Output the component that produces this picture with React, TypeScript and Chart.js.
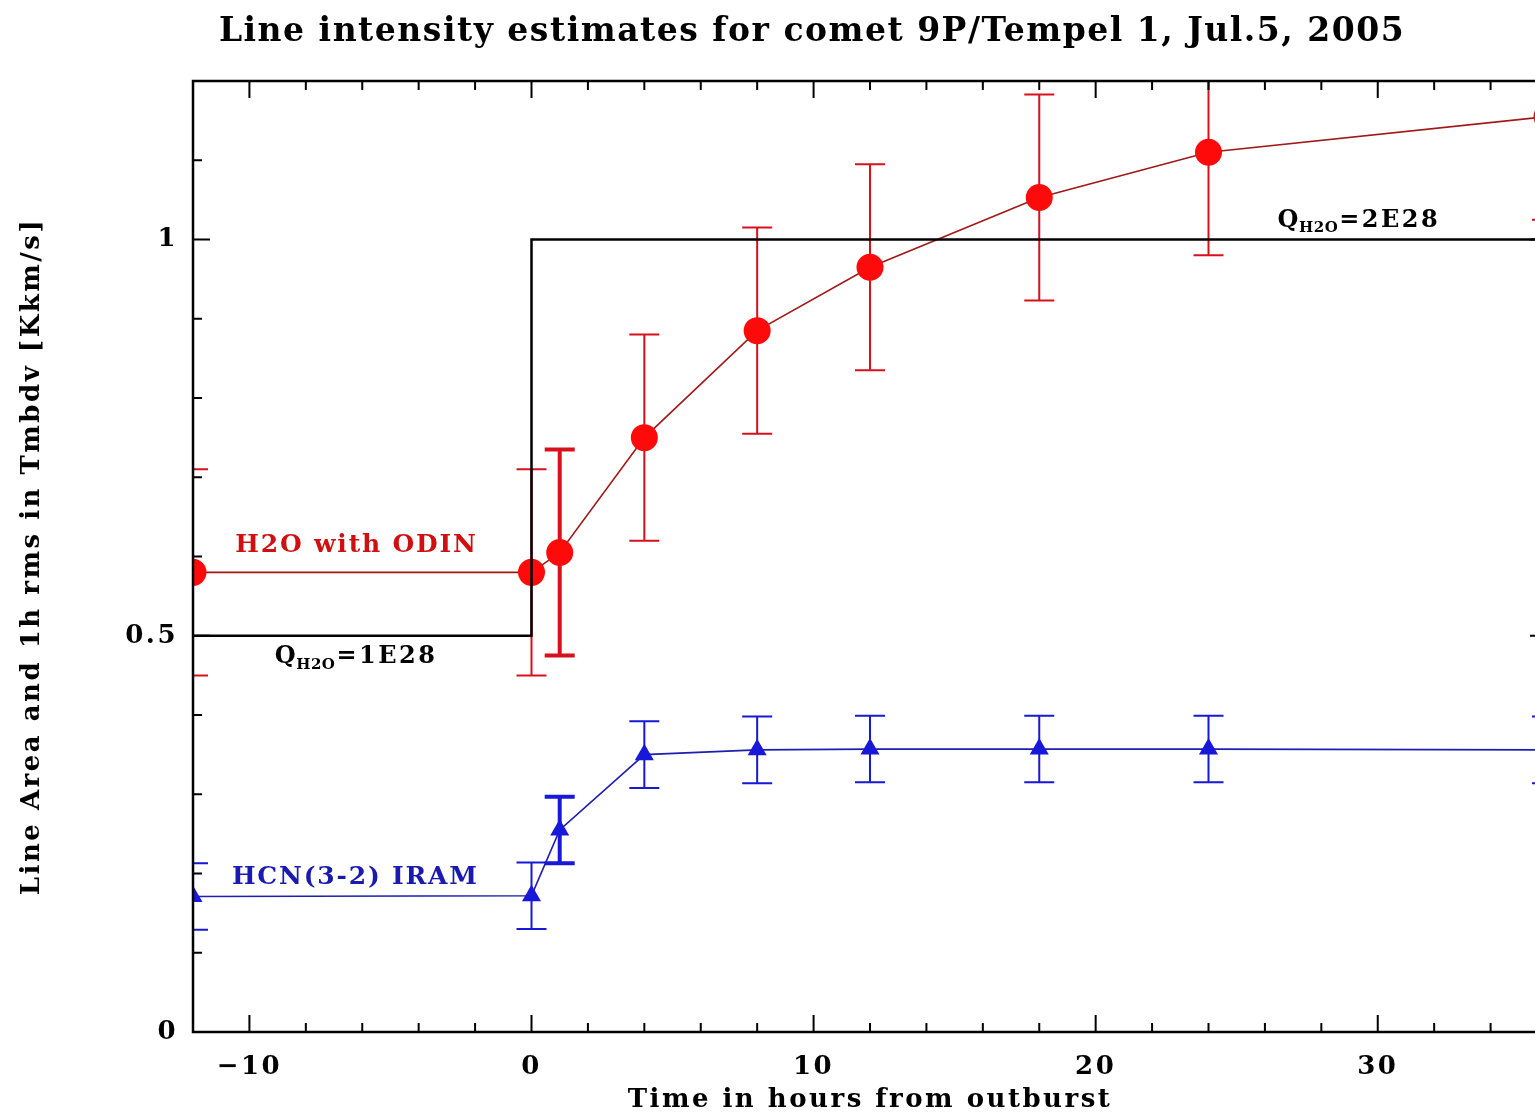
import React, { useEffect, useRef } from "react";
import { Chart, registerables } from "chart.js";

Chart.register(...registerables);

const TITLE = "Line intensity estimates for comet 9P/Tempel 1, Jul.5, 2005";
const X_TITLE = "Time in hours from outburst";
const Y_TITLE = "Line Area and 1h rms in Tmbdv [Kkm/s]";

const X_MIN = -12;
const X_MAX = 36;
const Y_MIN = 0;
const Y_MAX = 1.2;
const X_LABELED_TICKS = [-10, 0, 10, 20, 30];
const Y_LABELED_TICKS = [0, 0.5, 1];

const TIMES = [-12, 0, 1, 4, 8, 12, 18, 24, 36];
const H2O_VALUES = [0.58, 0.58, 0.605, 0.75, 0.885, 0.965, 1.053, 1.11, 1.155];
const H2O_ERRORS = [0.13, 0.13, 0.13, 0.13, 0.13, 0.13, 0.13, 0.13, 0.13];
const HCN_VALUES = [0.171, 0.172, 0.255, 0.35, 0.356, 0.357, 0.357, 0.357, 0.356];
const HCN_ERRORS = [0.042, 0.042, 0.042, 0.042, 0.042, 0.042, 0.042, 0.042, 0.042];

const Q_STEP_X = [-12, 0, 0, 36];
const Q_STEP_Y = [0.5, 0.5, 1, 1];

const H2O_LABEL = { text: "H2O with ODIN", x: -10.5, y: 0.614 };
const HCN_LABEL = { text: "HCN(3-2) IRAM", x: -10.62, y: 0.195 };
const Q_LABELS = [
  { main: "Q", sub: "H2O", rest: "=1E28", x: -9.1, y: 0.473 },
  { main: "Q", sub: "H2O", rest: "=2E28", x: 26.45, y: 1.024 },
];

const THICK_ERROR_TIME = 1;

const FONT = "'DejaVu Serif', serif";
const RED = "#ff0a0a";
const RED_LINE = "#a01818";
const RED_ERR = "#d8101c";
const BLUE = "#1818d8";
const BLUE_LINE = "#1e1eb0";

const fmtTick = (n: number) => (n < 0 ? "\u2212" + String(-n) : String(n));

const spacingPlugin = {
  id: "spacing",
  beforeDraw(chart: any) {
    (chart.ctx as any).letterSpacing = "2.5px";
  },
};

const errorBarPlugin = {
  id: "errorBars",
  beforeDatasetsDraw(chart: any) {
    const ctx = chart.ctx;
    const xs = chart.scales.x;
    const ys = chart.scales.y;
    const { left, right, top, bottom } = chart.chartArea;
    const draw = (vals: number[], errs: number[], color: string, cap: number) => {
      ctx.save();
      ctx.beginPath();
      ctx.rect(left, top, right - left, bottom - top);
      ctx.clip();
      ctx.strokeStyle = color;
      vals.forEach((v, i) => {
        const px = xs.getPixelForValue(TIMES[i]);
        const t = ys.getPixelForValue(v + errs[i]);
        const b = ys.getPixelForValue(v - errs[i]);
        ctx.lineWidth = TIMES[i] === THICK_ERROR_TIME ? 4 : 2;
        ctx.beginPath();
        ctx.moveTo(px, t);
        ctx.lineTo(px, b);
        ctx.moveTo(px - cap, t);
        ctx.lineTo(px + cap, t);
        ctx.moveTo(px - cap, b);
        ctx.lineTo(px + cap, b);
        ctx.stroke();
      });
      ctx.restore();
    };
    draw(H2O_VALUES, H2O_ERRORS, RED_ERR, 15);
    draw(HCN_VALUES, HCN_ERRORS, BLUE, 15);
  },
};

const framePlugin = {
  id: "frameTicks",
  afterDraw(chart: any) {
    const ctx = chart.ctx;
    const { left, right, top, bottom } = chart.chartArea;
    const xs = chart.scales.x;
    const ys = chart.scales.y;
    ctx.save();
    ctx.strokeStyle = "#000";
    ctx.lineWidth = 2.5;
    ctx.strokeRect(left, top, right - left, bottom - top);
    ctx.lineWidth = 2;
    ctx.beginPath();
    xs.ticks.forEach((t: any) => {
      const px = xs.getPixelForValue(t.value);
      const major = X_LABELED_TICKS.includes(Math.round(t.value));
      const len = major ? 17 : 9;
      ctx.moveTo(px, bottom);
      ctx.lineTo(px, bottom - len);
      ctx.moveTo(px, top);
      ctx.lineTo(px, top + len);
    });
    ys.ticks.forEach((t: any) => {
      const py = ys.getPixelForValue(t.value);
      const major = Y_LABELED_TICKS.some((v) => Math.abs(v - t.value) < 1e-6);
      const len = major ? 17 : 9;
      ctx.moveTo(left, py);
      ctx.lineTo(left + len, py);
      ctx.moveTo(right, py);
      ctx.lineTo(right - len, py);
    });
    ctx.stroke();

    // title
    ctx.fillStyle = "#000";
    (ctx as any).letterSpacing = "1.5px";
    ctx.font = `bold 33px ${FONT}`;
    ctx.textAlign = "center";
    ctx.textBaseline = "alphabetic";
    ctx.fillText(TITLE, 812, 41);

    // series labels
    (ctx as any).letterSpacing = "1.8px";
    ctx.textAlign = "left";
    ctx.textBaseline = "middle";
    ctx.font = `bold 25px ${FONT}`;
    ctx.fillStyle = "#d01010";
    ctx.fillText(H2O_LABEL.text, xs.getPixelForValue(H2O_LABEL.x), ys.getPixelForValue(H2O_LABEL.y));
    ctx.fillStyle = "#1a1ab0";
    ctx.fillText(HCN_LABEL.text, xs.getPixelForValue(HCN_LABEL.x), ys.getPixelForValue(HCN_LABEL.y));

    ctx.fillStyle = "#000";
    Q_LABELS.forEach((q) => {
      let px = xs.getPixelForValue(q.x);
      const py = ys.getPixelForValue(q.y);
      (ctx as any).letterSpacing = "2.5px";
      ctx.font = `bold 24px ${FONT}`;
      ctx.fillText(q.main, px, py);
      px += ctx.measureText(q.main).width - 2;
      (ctx as any).letterSpacing = "0.5px";
      ctx.font = `bold 15px ${FONT}`;
      ctx.fillText(q.sub, px, py + 8);
      px += ctx.measureText(q.sub).width + 1;
      (ctx as any).letterSpacing = "2.5px";
      ctx.font = `bold 24px ${FONT}`;
      ctx.fillText(q.rest, px, py);
    });
    ctx.restore();
    (ctx as any).letterSpacing = "0px";
  },
};

export default function App() {
  const ref = useRef<HTMLCanvasElement | null>(null);
  useEffect(() => {
    if (!ref.current) return;
    const chart = new Chart(ref.current, {
      type: "scatter",
      data: {
        datasets: [
          {
            label: "Q",
            data: Q_STEP_X.map((x, i) => ({ x, y: Q_STEP_Y[i] })),
            showLine: true,
            borderColor: "#000",
            borderWidth: 2.5,
            pointRadius: 0,
            tension: 0,
          },
          {
            label: "HCN",
            data: TIMES.map((x, i) => ({ x, y: HCN_VALUES[i] })),
            showLine: true,
            borderColor: BLUE_LINE,
            borderWidth: 1.6,
            pointStyle: "triangle",
            pointRadius: 11,
            pointBackgroundColor: BLUE,
            pointBorderColor: BLUE,
            pointBorderWidth: 0,
          },
          {
            label: "H2O",
            data: TIMES.map((x, i) => ({ x, y: H2O_VALUES[i] })),
            showLine: true,
            borderColor: RED_LINE,
            borderWidth: 1.6,
            pointStyle: "circle",
            pointRadius: 13.5,
            pointBackgroundColor: RED,
            pointBorderColor: RED,
            pointBorderWidth: 0,
          },
        ],
      },
      options: {
        responsive: false,
        animation: false,
        layout: { padding: { left: 0, right: 0, top: 81, bottom: 0 } },
        plugins: {
          legend: { display: false },
          tooltip: { enabled: false },
          title: { display: false },
        },
        scales: {
          x: {
            type: "linear",
            min: X_MIN,
            max: X_MAX,
            grid: { display: false, drawTicks: false },
            border: { display: false },
            ticks: {
              stepSize: 2,
              autoSkip: false,
              maxRotation: 0,
              padding: 20,
              color: "#000",
              font: { family: FONT, size: 26, weight: "bold" },
              callback: (v: any) => {
                const n = Math.round(Number(v));
                return X_LABELED_TICKS.includes(n) ? fmtTick(n) : "";
              },
            },
            title: {
              display: true,
              text: X_TITLE,
              color: "#000",
              font: { family: FONT, size: 26, weight: "bold" },
              padding: { top: 0, bottom: 0 },
            },
            afterFit: (s: any) => {
              s.height = 84;
            },
          },
          y: {
            type: "linear",
            min: Y_MIN,
            max: Y_MAX,
            grid: { display: false, drawTicks: false },
            border: { display: false },
            ticks: {
              stepSize: 0.1,
              autoSkip: false,
              padding: 15,
              color: "#000",
              font: { family: FONT, size: 26, weight: "bold" },
              callback: (v: any) => {
                const n = Number(v);
                const hit = Y_LABELED_TICKS.find((t) => Math.abs(t - n) < 1e-6);
                return hit === undefined ? "" : String(hit);
              },
            },
            title: {
              display: true,
              text: Y_TITLE,
              color: "#000",
              font: { family: FONT, size: 26, weight: "bold" },
              padding: { top: 17, bottom: 0 },
            },
            afterFit: (s: any) => {
              s.width = 193;
            },
          },
        },
      },
      plugins: [spacingPlugin, errorBarPlugin, framePlugin],
    });
    return () => chart.destroy();
  }, []);
  return (
    <div style={{ position: "fixed", left: 0, top: 0, width: 1535, height: 1116, overflow: "hidden", background: "#fff" }}>
      <div style={{ width: 1567, height: 1116 }}>
        <canvas ref={ref} width={1567} height={1116} style={{ display: "block" }} />
      </div>
    </div>
  );
}
